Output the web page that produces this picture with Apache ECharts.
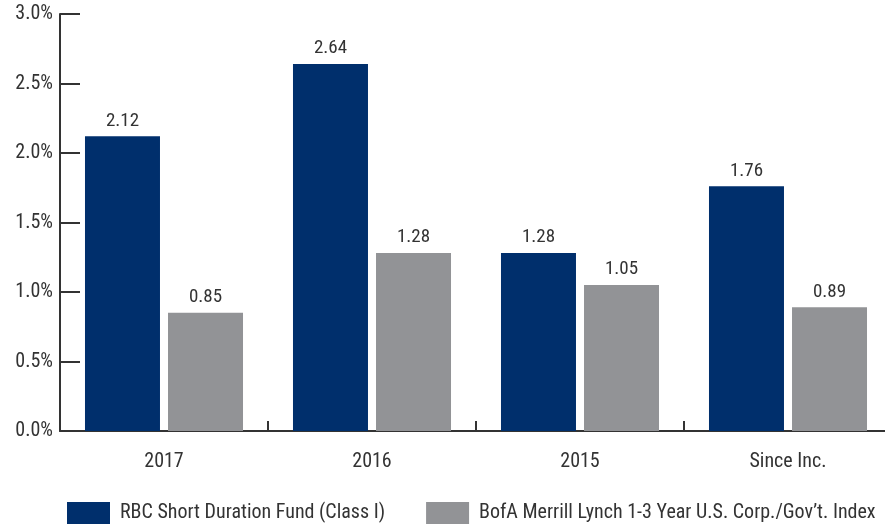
<!DOCTYPE html>
<html>
<head>
<meta charset="utf-8">
<script src="https://cdn.jsdelivr.net/npm/echarts@6/dist/echarts.min.js"></script>
<style>
  html, body { margin: 0; padding: 0; background: #fff; overflow: hidden; }
  /* the plot area runs slightly past the right edge of the page */
  #chart { width: 892px; height: 527px; }
</style>
</head>
<body>
<div id="chart"></div>
<script>
// Annual returns by period
const categories = ['2017', '2016', '2015', 'Since Inc.'];
const fundName = 'RBC Short Duration Fund (Class I)';
const indexName = 'BofA Merrill Lynch 1-3 Year U.S. Corp./Gov\u2019t. Index';
const fundValues = [2.12, 2.64, 1.28, 1.76];
const indexValues = [0.85, 1.28, 1.05, 0.89];
const yTicks = { min: 0, max: 3, interval: 0.5 };

const FONT = '"Liberation Sans Narrow", "Roboto Condensed", "Noto Sans", sans-serif';
const TEXT = '#333333';
const SIZE = 20;

const chart = echarts.init(document.getElementById('chart'));

const labelStyle = {
  show: true,
  position: 'top',
  distance: 6,
  color: TEXT,
  fontFamily: FONT,
  fontSize: 19,
  formatter: p => p.value.toFixed(2)
};

chart.setOption({
  animation: false,
  textStyle: { fontFamily: FONT },
  grid: { left: 60, top: 14, right: 0, height: 417, containLabel: false },
  legend: {
    top: 502,
    left: 67,
    padding: 0,
    itemWidth: 43,
    itemHeight: 22,
    itemGap: 41,
    icon: 'rect',
    textStyle: { color: TEXT, fontFamily: FONT, fontSize: SIZE, padding: [3, 0, 0, 5] },
    data: [fundName, indexName]
  },
  xAxis: {
    type: 'category',
    data: categories,
    axisLine: { lineStyle: { color: TEXT, width: 2 } },
    axisTick: { show: true, inside: true, length: 10, lineStyle: { color: TEXT, width: 2 } },
    axisLabel: { color: TEXT, fontFamily: FONT, fontSize: SIZE, margin: 21 }
  },
  yAxis: {
    type: 'value',
    min: yTicks.min,
    max: yTicks.max,
    interval: yTicks.interval,
    splitLine: { show: false },
    axisLine: { show: true, lineStyle: { color: TEXT, width: 2 } },
    axisTick: { show: true, inside: true, length: 20, lineStyle: { color: TEXT, width: 2 } },
    axisLabel: {
      color: TEXT, fontFamily: FONT, fontSize: SIZE, margin: 7,
      formatter: v => v.toFixed(1) + '%'
    }
  },
  series: [
    {
      name: fundName,
      type: 'bar',
      data: fundValues,
      barWidth: 75,
      barGap: '10.7%',
      itemStyle: { color: '#002f6c' },
      label: labelStyle
    },
    {
      name: indexName,
      type: 'bar',
      data: indexValues,
      barWidth: 75,
      itemStyle: { color: '#929396' },
      label: labelStyle
    }
  ]
});
</script>
</body>
</html>
